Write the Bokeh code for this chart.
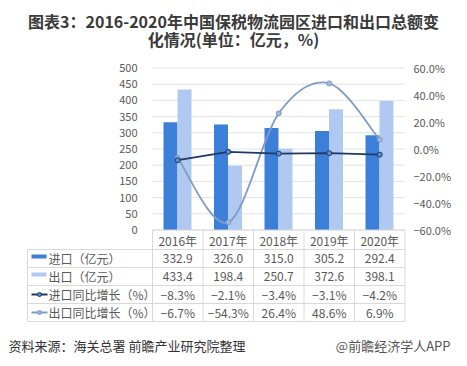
from bokeh.plotting import figure
from bokeh.models import Range1d
from bokeh.embed import file_html
from bokeh.resources import INLINE
from bokeh.core.properties import value

years = ["2016年", "2017年", "2018年", "2019年", "2020年"]
imports = [332.9, 326.0, 315.0, 305.2, 292.4]
exports = [433.4, 198.4, 250.7, 372.6, 398.1]
import_growth = [-8.3, -2.1, -3.4, -3.1, -4.2]
export_growth = [-6.7, -54.3, 26.4, 48.6, 6.9]
left_ticks = [0, 50, 100, 150, 200, 250, 300, 350, 400, 450, 500]
right_ticks = [-60, -40, -20, 0, 20, 40, 60]
series_names = ["进口（亿元）", "出口（亿元）", "进口同比增长（%）", "出口同比增长（%）"]
title_lines = ["图表3：2016-2020年中国保税物流园区进口和出口总额变", "化情况(单位：亿元，%)"]
source_text = "资料来源：海关总署 前瞻产业研究院整理"
brand_text = "@前瞻经济学人APP"

FONT = value("Noto Sans CJK SC")
C_IMP = "#3C7FD9"
C_EXP = "#AFC9F0"
C_IMPG = "#203864"
C_EXPG = "#7F9CC8"
TXT = "#595959"
GRID = "#E3E3E3"

W, H = 451, 358
def xr(px):
    return (px - 177.25) / 50.5

p = figure(width=W, height=H, output_backend="svg", toolbar_location=None,
           x_range=Range1d(xr(0), xr(W)),
           y_range=Range1d((229.5 - H) / 0.324, 229.5 / 0.324),
           min_border=0, x_axis_location=None, y_axis_location=None,
           outline_line_color=None, background_fill_color="white",
           border_fill_color="white")
p.grid.visible = False
p.extra_y_ranges = {"pct": Range1d((148.5 - H) / 1.35, 148.5 / 1.35),
                    "px": Range1d(H, 0)}
p.extra_x_ranges = {"px": Range1d(0, W)}

n = len(years)
idx = list(range(n))

# gridlines
p.segment(x0=[-0.5] * len(left_ticks), x1=[n - 0.5] * len(left_ticks),
          y0=left_ticks, y1=left_ticks, line_color=GRID, line_width=1)

# bars
p.vbar(x=[i - 0.1436 for i in idx], top=imports, bottom=0, width=0.277,
       fill_color=C_IMP, line_color=None)
p.vbar(x=[i + 0.1336 for i in idx], top=exports, bottom=0, width=0.277,
       fill_color=C_EXP, line_color=None)

# smoothed export growth curve (Catmull-Rom -> Bezier)
pts = list(zip(idx, export_growth))
x0s, y0s, x1s, y1s, cx0, cy0, cx1, cy1 = [], [], [], [], [], [], [], []
for i in range(n - 1):
    pm = pts[i - 1] if i > 0 else pts[i]
    pa = pts[i]
    pb = pts[i + 1]
    pn = pts[i + 2] if i + 2 < n else pts[i + 1]
    x0s.append(pa[0]); y0s.append(pa[1]); x1s.append(pb[0]); y1s.append(pb[1])
    cx0.append(pa[0] + (pb[0] - pm[0]) / 6); cy0.append(pa[1] + (pb[1] - pm[1]) / 6)
    cx1.append(pb[0] - (pn[0] - pa[0]) / 6); cy1.append(pb[1] - (pn[1] - pa[1]) / 6)
p.bezier(x0=x0s, y0=y0s, x1=x1s, y1=y1s, cx0=cx0, cy0=cy0, cx1=cx1, cy1=cy1,
         line_color=C_EXPG, line_width=1.8, y_range_name="pct")
p.scatter(idx, export_growth, size=5, fill_color="#9DB6DE", line_color=C_EXPG,
          line_width=1, y_range_name="pct")

# import growth line
p.line(idx, import_growth, line_color=C_IMPG, line_width=1.8, y_range_name="pct")
p.scatter(idx, import_growth, size=5, fill_color="#5B8BD0", line_color=C_IMPG,
          line_width=1, y_range_name="pct")

# axis tick labels
p.text(x=[137] * len(left_ticks), y=left_ticks, text=[str(t) for t in left_ticks],
       x_range_name="px", text_align="right", text_baseline="middle",
       text_font=FONT, text_font_size="11px", text_color=TXT)
p.text(x=[413] * len(right_ticks), y=right_ticks,
       text=["%.1f%%" % t if t >= 0 else "\u2212%.1f%%" % abs(t) for t in right_ticks],
       x_range_name="px", y_range_name="pct", text_align="left", text_baseline="middle",
       text_font=FONT, text_font_size="11px", text_color=TXT)

# data table
TL = "#D9D9D9"
row_lines = [249, 267, 285, 303, 321]
p.segment(x0=[27] * len(row_lines), x1=[404.5] * len(row_lines), y0=row_lines, y1=row_lines,
          x_range_name="px", y_range_name="px", line_color=TL, line_width=1)
p.segment(x0=[152], x1=[404.5], y0=[229.5], y1=[229.5],
          x_range_name="px", y_range_name="px", line_color=TL, line_width=1)
bounds = [i - 0.5 for i in range(n + 1)]
p.segment(x0=bounds, x1=bounds, y0=[229.5] * len(bounds), y1=[321] * len(bounds),
          y_range_name="px", line_color=TL, line_width=1)
p.segment(x0=[27], x1=[27], y0=[249], y1=[321], x_range_name="px", y_range_name="px",
          line_color=TL, line_width=1)

p.text(x=idx, y=[240] * n, text=years, y_range_name="px", text_align="center",
       text_baseline="middle", text_font=FONT, text_font_size="12px", text_color=TXT)
row_y = [258, 276, 294, 312]
rows = [["%.1f" % v for v in imports], ["%.1f" % v for v in exports],
        [("%.1f%%" % v).replace("-", "\u2212") for v in import_growth],
        [("%.1f%%" % v).replace("-", "\u2212") for v in export_growth]]
for ry, vals in zip(row_y, rows):
    p.text(x=idx, y=[ry] * n, text=vals, y_range_name="px", text_align="center",
           text_baseline="middle", text_font=FONT, text_font_size="12px", text_color=TXT)

p.text(x=[48] * 4, y=row_y, text=series_names, x_range_name="px", y_range_name="px",
       text_align="left", text_baseline="middle", text_font=FONT, text_font_size="12px",
       text_color=TXT)
# legend keys
p.quad(left=[31, 31], right=[46, 46], top=[254, 272], bottom=[258, 276],
       fill_color=[C_IMP, C_EXP], line_color=None, x_range_name="px", y_range_name="px")
p.segment(x0=[31, 31], x1=[47, 47], y0=[294, 312], y1=[294, 312],
          line_color=[C_IMPG, C_EXPG], line_width=1.8, x_range_name="px", y_range_name="px")
p.scatter(x=[39, 39], y=[294, 312], size=4, fill_color=["#5B8BD0", "#9DB6DE"],
          line_color=[C_IMPG, C_EXPG], x_range_name="px", y_range_name="px")

# title
p.text(x=[233, 233], y=[20, 38], text=title_lines, x_range_name="px", y_range_name="px",
       text_align="center", text_baseline="middle", text_font=FONT,
       text_font_size="16px", text_font_style="bold", text_color="#3A3A3A")

# footer
p.text(x=[8], y=[345], text=[source_text], x_range_name="px", y_range_name="px",
       text_align="left", text_baseline="middle", text_font=FONT,
       text_font_size="13px", text_color="#333333")
p.text(x=[450], y=[345], text=[brand_text], x_range_name="px", y_range_name="px",
       text_align="right", text_baseline="middle", text_font=FONT,
       text_font_size="13px", text_color="#555555")

open("out.html", "w").write(file_html(p, INLINE))
